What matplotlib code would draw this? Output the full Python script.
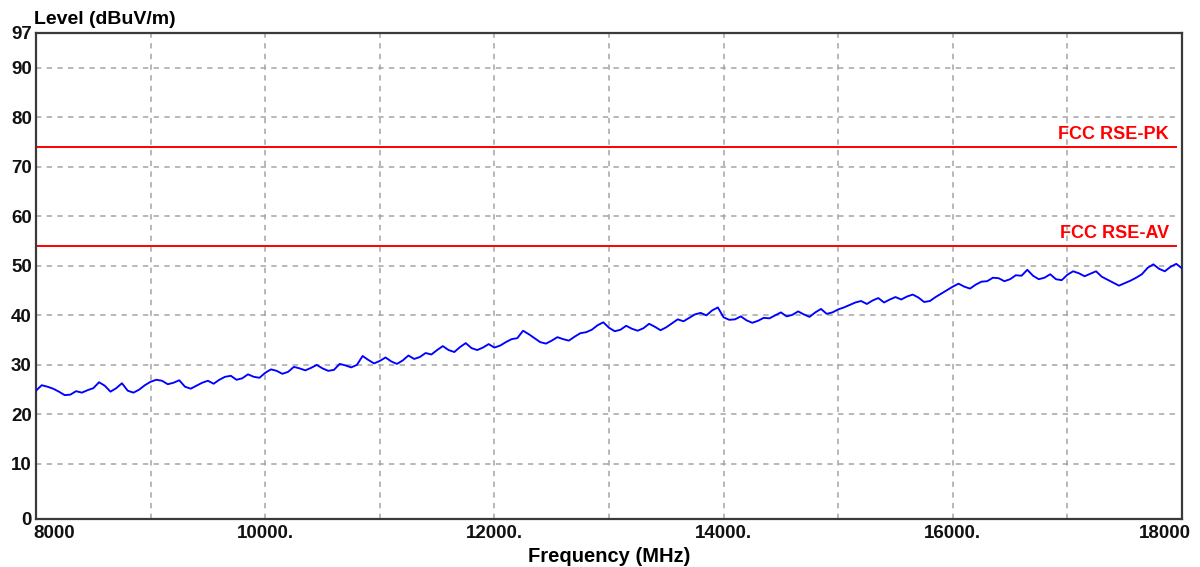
import numpy as np
import matplotlib
matplotlib.use("Agg")
import matplotlib.pyplot as plt
from matplotlib.transforms import offset_copy

# Trace, 50 MHz steps from 8000 to 18000 MHz
freq_mhz = np.arange(8000, 18001, 50)
level_dbuv = [
    24.8, 25.9, 25.6, 25.2, 24.6, 23.9, 24.0, 24.7, 24.4, 24.9,
    25.3, 26.5, 25.8, 24.6, 25.3, 26.3, 24.8, 24.4, 25.0, 25.9,
    26.6, 27.0, 26.8, 26.1, 26.4, 26.9, 25.6, 25.2, 25.8, 26.4,
    26.8, 26.2, 27.0, 27.6, 27.8, 27.0, 27.3, 28.1, 27.6, 27.4,
    28.4, 29.1, 28.8, 28.2, 28.6, 29.6, 29.3, 28.9, 29.4, 30.0,
    29.3, 28.8, 29.0, 30.2, 29.9, 29.5, 30.0, 31.8, 31.0, 30.3,
    30.8, 31.5, 30.7, 30.2, 30.9, 31.9, 31.2, 31.6, 32.4, 32.1,
    33.0, 33.8, 33.0, 32.6, 33.6, 34.4, 33.4, 33.0, 33.5, 34.2,
    33.5, 33.9, 34.6, 35.2, 35.4, 36.9, 36.2, 35.4, 34.6, 34.3,
    34.9, 35.6, 35.2, 34.9, 35.7, 36.4, 36.6, 37.1, 38.0, 38.6,
    37.5, 36.8, 37.1, 37.9, 37.3, 36.9, 37.4, 38.3, 37.7, 37.0,
    37.6, 38.4, 39.2, 38.8, 39.5, 40.2, 40.5, 40.0, 41.0, 41.6,
    39.6, 39.1, 39.2, 39.8, 39.0, 38.5, 38.9, 39.5, 39.4, 40.0,
    40.6, 39.8, 40.1, 40.8, 40.2, 39.7, 40.6, 41.3, 40.3, 40.6,
    41.2, 41.6, 42.1, 42.6, 42.9, 42.3, 43.0, 43.5, 42.6, 43.2,
    43.7, 43.2, 43.8, 44.2, 43.6, 42.7, 42.9, 43.7, 44.4, 45.1,
    45.8, 46.4, 45.8, 45.4, 46.2, 46.8, 46.9, 47.6, 47.5, 46.9,
    47.3, 48.1, 48.0, 49.2, 48.0, 47.3, 47.6, 48.3, 47.3, 47.1,
    48.2, 48.9, 48.5, 47.9, 48.4, 48.9, 47.8, 47.2, 46.6, 46.0,
    46.5, 47.0, 47.6, 48.3, 49.6, 50.3, 49.4, 48.9, 49.8, 50.4,
    49.5,
]

# Limit lines
limit_names = ["FCC RSE-PK", "FCC RSE-AV"]
limit_values = [74, 54]

x_ticks = [8000, 10000, 12000, 14000, 16000, 18000]
x_tick_labels = ["8000", "10000.", "12000.", "14000.", "16000.", "18000"]
x_grid = [9000, 10000, 11000, 12000, 13000, 14000, 15000, 16000, 17000]
y_grid = [10, 20, 30, 40, 50, 60, 70, 80, 90]
y_bottom = -1.1
y_top = 97

font = "Liberation Sans"

fig = plt.figure(figsize=(12, 5.67), dpi=100, facecolor="white")
ax = fig.add_axes([0.030, 0.0847, 0.955, 0.8571])

# dashed grid
for gx in x_grid:
    ax.axvline(gx, color="#a4a4a4", lw=1.1, dashes=(3.5, 3.5), zorder=1)
for gy in y_grid:
    ax.axhline(gy, xmax=0.994, color="#a4a4a4", lw=1.1, dashes=(3.5, 3.5), zorder=1)

# limits with labels
for name, val in zip(limit_names, limit_values):
    ax.axhline(val, xmax=0.995, color="#ff0000", lw=1.4, zorder=2)
    ax.annotate(name, xy=(0.9887, val), xycoords=("axes fraction", "data"),
                xytext=(0, 3), textcoords="offset points", ha="right", va="bottom",
                color="#ff0000", fontsize=13, fontweight="bold", family=font)

# measured trace
ax.plot(freq_mhz, level_dbuv, color="#0000ff", lw=1.35, zorder=3)

ax.set_xlim(8000, 18000)
ax.set_ylim(y_bottom, y_top)

ax.set_xticks(x_ticks)
ax.set_xticklabels(x_tick_labels)
ax.set_yticks([y_bottom] + y_grid + [y_top])
ax.set_yticklabels(["0"] + [str(v) for v in y_grid] + ["97"])
ax.tick_params(length=0, pad=4, labelsize=13.5)
ax.tick_params(axis="y", pad=3)
for lbl in ax.get_xticklabels() + ax.get_yticklabels():
    lbl.set_fontweight("bold")
    lbl.set_family(font)
    lbl.set_color("#111111")
xl = ax.get_xticklabels()
xl[0].set_horizontalalignment("left")
xl[0].set_transform(offset_copy(xl[0].get_transform(), fig=fig, x=-3, y=0, units="dots"))
xl[-1].set_horizontalalignment("right")
xl[-1].set_transform(offset_copy(xl[-1].get_transform(), fig=fig, x=9, y=0, units="dots"))

for sp in ax.spines.values():
    sp.set_color("#3a3a3a")
    sp.set_linewidth(1.6)

ax.set_xlabel("Frequency (MHz)", fontsize=14.5, fontweight="bold", family=font, labelpad=4)
fig.text(0.028, 0.950, "Level (dBuV/m)", fontsize=14, fontweight="bold",
         family=font, ha="left", va="bottom")

fig.savefig("out.png", dpi=100, facecolor="white")
